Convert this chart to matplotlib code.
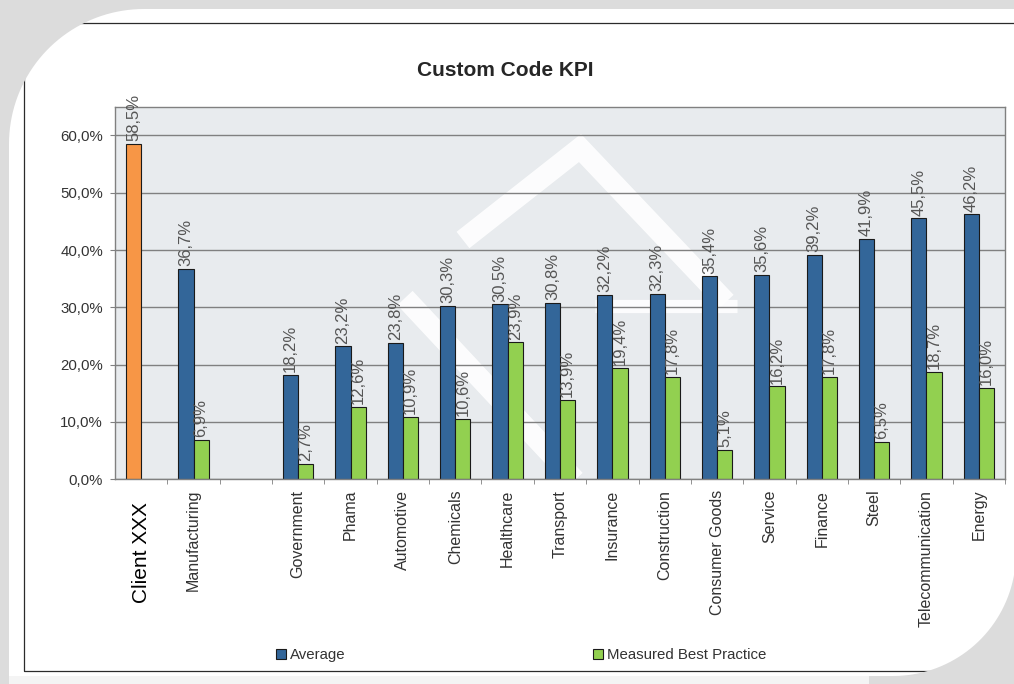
import numpy as np
import matplotlib
matplotlib.use("Agg")
import matplotlib.pyplot as plt
from matplotlib.patches import PathPatch, Rectangle, Patch
from matplotlib.path import Path
from matplotlib.transforms import ScaledTranslation

plt.rcParams['font.family'] = ['Liberation Sans', 'DejaVu Sans']

# ---------------- data ----------------
categories = ['Client XXX', 'Manufacturing', '', 'Government', 'Phama', 'Automotive',
              'Chemicals', 'Healthcare', 'Transport', 'Insurance', 'Construction',
              'Consumer Goods', 'Service', 'Finance', 'Steel', 'Telecommunication', 'Energy']
average = [58.5, 36.7, np.nan, 18.2, 23.2, 23.8, 30.3, 30.5, 30.8, 32.2, 32.3,
           35.4, 35.6, 39.2, 41.9, 45.5, 46.2]
best_practice = [np.nan, 6.9, np.nan, 2.7, 12.6, 10.9, 10.6, 23.9, 13.9, 19.4, 17.8,
                 5.1, 16.2, 17.8, 6.5, 18.7, 16.0]
yticks = [0, 10, 20, 30, 40, 50, 60]
series_names = ['Average', 'Measured Best Practice']

BLUE = '#336699'
GREEN = '#92d050'
ORANGE = '#f79646'

W, H = 1014, 684
fig = plt.figure(figsize=(W / 100, H / 100), dpi=100)
fig.patch.set_facecolor('#dcdcdc')


def P(x, y):
    return (x / W, 1 - y / H)


# ---------------- card background ----------------
R1 = 135
verts = [P(9, 720), P(9, 9 + R1)]
for t in np.linspace(np.pi, 1.5 * np.pi, 40):
    verts.append(P(9 + R1 + R1 * np.cos(t), 9 + R1 + R1 * np.sin(t)))
verts.append(P(1030, 9))
verts.append(P(1030, 540))
for t in np.linspace(0, 0.5 * np.pi, 40):
    verts.append(P(893 + 123 * np.cos(t), 553 + 123 * np.sin(t)))
verts.append(P(880, 676))
verts.append(P(9, 676))
verts.append(P(9, 720))
card_path = Path(verts, closed=True)
card = PathPatch(card_path, transform=fig.transFigure, facecolor='white',
                 edgecolor='none', zorder=-3)
fig.add_artist(card)
strip = Rectangle(P(9, 690), 860 / W, 14 / H, transform=fig.transFigure,
                  facecolor='#f4f4f4', edgecolor='none', zorder=-3.5)
fig.add_artist(strip)

frame = Rectangle(P(24, 671), (1040 - 24) / W, (671 - 23) / H, transform=fig.transFigure,
                  facecolor='none', edgecolor='#2b2b2b', lw=0.9, zorder=-2)
fig.add_artist(frame)
frame.set_clip_path(card)

# ---------------- axes ----------------
ax = fig.add_axes([115 / W, 1 - 479.3 / H, 890 / W, (479.3 - 106.7) / H])
ax.set_facecolor('#e8ebee')
ax.set_axisbelow(True)
for s in ax.spines.values():
    s.set_color('#808080')
    s.set_linewidth(1)

# watermark
wm_kw = dict(transform=fig.transFigure, color='white', alpha=0.9,
             solid_joinstyle='miter', solid_capstyle='butt', zorder=0.2)
l1, = ax.plot([P(463, 240)[0], P(580, 148)[0], P(726, 302)[0]],
              [P(463, 240)[1], P(580, 148)[1], P(726, 302)[1]], lw=15, **wm_kw)
l2, = ax.plot([P(595, 306)[0], P(737, 306)[0]], [P(595, 306)[1], P(737, 306)[1]],
              lw=9.5, **wm_kw)
l3, = ax.plot([P(405, 298)[0], P(575, 480)[0]], [P(405, 298)[1], P(575, 480)[1]],
              lw=15, **wm_kw)
for l in (l1, l2, l3):
    l.set_clip_path(ax.patch)

x = np.arange(len(categories))
w = 0.29
avg_colors = [ORANGE] + [BLUE] * (len(categories) - 1)
ax.bar(x - w / 2, average, w, color=avg_colors, edgecolor='#1a1a1a', lw=0.8, zorder=2)
ax.bar(x + w / 2, best_practice, w, color=GREEN, edgecolor='#1a1a1a', lw=0.8, zorder=2)


def fmt(v):
    return f"{v:.1f}%".replace('.', ',')


for xi, v in zip(x, average):
    if not np.isnan(v):
        ax.annotate(fmt(v), (xi - w / 2, v), xytext=(0, 2), textcoords='offset points',
                    rotation=90, ha='center', va='bottom', fontsize=12, color='#555555',
                    zorder=3)
for xi, v in zip(x, best_practice):
    if not np.isnan(v):
        ax.annotate(fmt(v), (xi + w / 2, v), xytext=(0, 2), textcoords='offset points',
                    rotation=90, ha='center', va='bottom', fontsize=12, color='#555555',
                    zorder=3)

ax.set_xlim(-0.5, len(categories) - 0.5)
ax.set_ylim(0, 65)
ax.set_yticks(yticks)
ax.set_yticklabels([fmt(v) for v in yticks])
ax.yaxis.grid(True, color='#808080', lw=1)
ax.tick_params(axis='y', length=3.6, color='#808080', labelsize=10.8,
               labelcolor='#333333', pad=5)

ax.set_xticks(x)
ax.set_xticklabels(categories, rotation=90, fontsize=11.5, color='#333333')
ax.set_xticks(np.arange(0.5, len(categories), 1), minor=True)
ax.tick_params(axis='x', which='major', length=0, pad=7.5)
ax.tick_params(axis='x', which='minor', length=3.6, color='#808080')
lbl0 = ax.get_xticklabels()[0]
lbl0.set_fontsize(15)
lbl0.set_color('black')
lbl0.set_transform(lbl0.get_transform() + ScaledTranslation(0, -0.12, fig.dpi_scale_trans))

# ---------------- title & legend ----------------
fig.text(*P(505, 76), 'Custom Code KPI', ha='center', va='baseline', fontsize=15,
         fontweight='bold', color='#262626')

handles = [Patch(facecolor=BLUE, edgecolor='#1a1a1a', lw=0.8),
           Patch(facecolor=GREEN, edgecolor='#1a1a1a', lw=0.8)]
leg = fig.legend(handles, series_names, loc='center', bbox_to_anchor=P(521, 655),
                 ncol=2, frameon=False, handlelength=0.7, handleheight=0.7,
                 handletextpad=0.25, columnspacing=16.5, fontsize=10.8,
                 borderaxespad=0, borderpad=0)
for t in leg.get_texts():
    t.set_color('#333333')

fig.savefig('out.png', dpi=100, facecolor=fig.get_facecolor())
